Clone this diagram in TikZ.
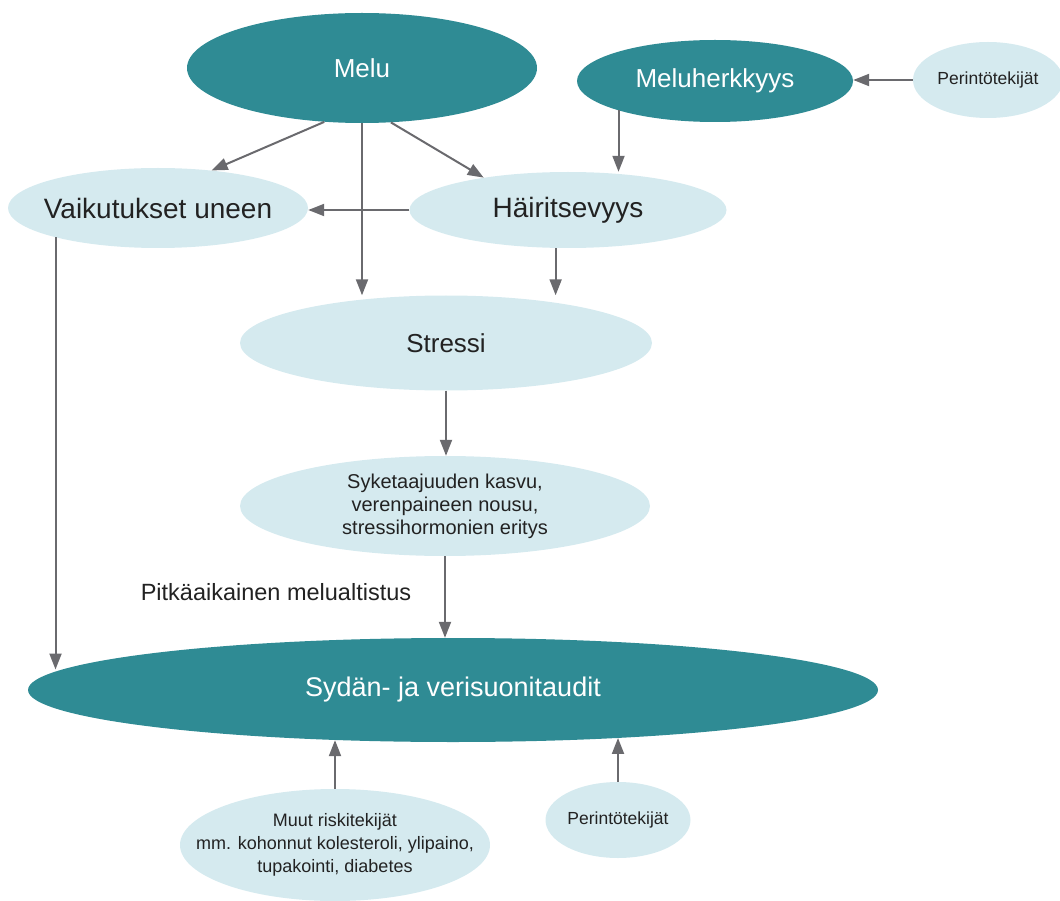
\documentclass[tikz,border=0pt]{standalone}
\usepackage{fontspec}
\setmainfont{Liberation Sans}
\usetikzlibrary{shapes.geometric,arrows.meta}
\definecolor{tealdark}{HTML}{2F8B94}
\definecolor{teallight}{HTML}{D5EAEF}
\definecolor{arrowgray}{HTML}{6A6A6E}
\definecolor{textdark}{HTML}{222222}
\begin{document}
\begin{tikzpicture}[x=1pt,y=-1pt,
  darknode/.style={ellipse, fill=tealdark, text=white, inner sep=0pt, align=center},
  lightnode/.style={ellipse, fill=teallight, text=textdark, inner sep=0pt, align=center},
  bigfont/.style={font=\fontsize{26}{30}\selectfont},
  largefont/.style={font=\fontsize{28}{32}\selectfont},
  midfont/.style={font=\fontsize{20}{23}\selectfont},
  smallfont/.style={font=\fontsize{17.5}{23}\selectfont},
  arr/.style={arrowgray, line width=2pt, -{Triangle[length=16pt,width=12pt]}}]
\useasboundingbox (0,0) rectangle (1060,901);
% Top row
\node[darknode, bigfont, minimum width=350pt, minimum height=110pt] (melu) at (362,68) {Melu};
\node[darknode, bigfont, minimum width=276pt, minimum height=82pt] (herkkyys) at (715,81) {Meluherkkyys};
\node[lightnode, smallfont, minimum width=150pt, minimum height=76pt] (perinto1) at (988,80) {Perintötekijät};
% Second row
\node[lightnode, minimum width=300pt, minimum height=80pt,
  label={[largefont, text=textdark]center:Vaikutukset uneen}] (uni) at (158,208) {};
\node[lightnode, largefont, minimum width=317pt, minimum height=76pt] (hairitsevyys) at (568,210) {Häiritsevyys};
% Stress chain
\node[lightnode, bigfont, minimum width=412pt, minimum height=95pt] (stressi) at (446,343) {Stressi};
\node[lightnode, midfont, minimum width=410pt, minimum height=100pt] (syke) at (445,506)
  {Syketaajuuden kasvu,\\verenpaineen nousu,\\stressihormonien eritys};
\node[text=textdark, font=\fontsize{23.5}{28}\selectfont] (pitka) at (276,592) {Pitkäaikainen melualtistus};
% Outcome
\node[darknode, font=\fontsize{27}{32}\selectfont, minimum width=850pt, minimum height=104pt] (sydan) at (453,690) {Sydän- ja verisuonitaudit};
% Other risk factors
\node[lightnode, minimum width=310pt, minimum height=112pt,
  label={[font=\fontsize{18}{23}\selectfont, text=textdark, align=center]center:Muut riskitekijät\\mm. kohonnut kolesteroli, ylipaino,\\tupakointi, diabetes}] (muut) at (335,845) {};
\node[lightnode, smallfont, minimum width=145pt, minimum height=76pt] (perinto2) at (618,820) {Perintötekijät};
% Arrows
\draw[arr] (melu.235) -- (uni.35);
\draw[arr] (melu.south) -- (melu.south |- stressi.north);
\draw[arr] (melu.298) -- (hairitsevyys.159);
\draw[arr] (perinto1.west) -- (perinto1.west -| herkkyys.east);
\draw[arr] (herkkyys.197) -- (herkkyys.197 |- hairitsevyys.north);
\draw[arr] (hairitsevyys.west) -- (hairitsevyys.west -| uni.east);
\draw[arr] (hairitsevyys.252) -- (hairitsevyys.252 |- stressi.north);
\draw[arr] (uni.196) -- (uni.196 |- sydan.177);
\draw[arr] (stressi.south) -- (stressi.south |- syke.north);
\draw[arr] (syke.south) -- (syke.south |- sydan.north);
\draw[arr] (muut.north) -- (muut.north |- sydan.203);
\draw[arr] (perinto2.north) -- (perinto2.north |- sydan.344);
\end{tikzpicture}
\end{document}
